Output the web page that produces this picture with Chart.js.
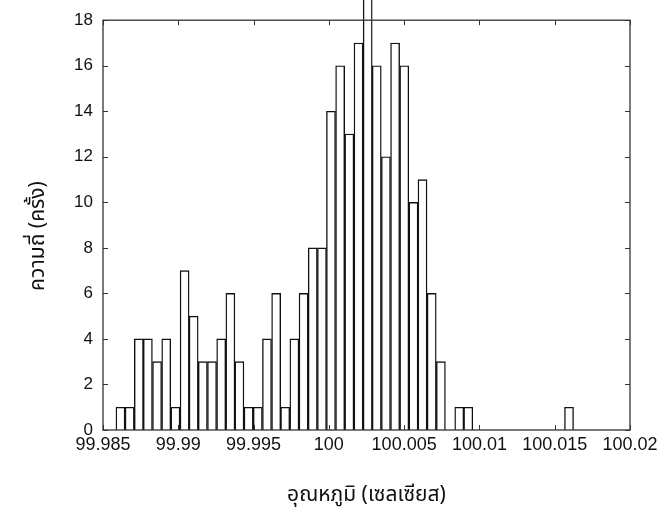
<!DOCTYPE html>
<html>
<head>
<meta charset="utf-8">
<script src="https://cdn.jsdelivr.net/npm/chart.js@4.4.1/dist/chart.umd.min.js"></script>
<style>
  html, body { margin: 0; padding: 0; background: #fff; }
  #wrap { width: 662px; height: 512px; }
</style>
</head>
<body>
<div id="wrap"><canvas id="myChart" width="662" height="512"></canvas></div>
<script>
// bin centres (องศาเซลเซียส)
var binCentres = [
  99.98616, 99.98677, 99.98738, 99.98798, 99.98859, 99.98920, 99.98981, 99.99042, 99.99102, 99.99163,
  99.99224, 99.99285, 99.99346, 99.99406, 99.99467, 99.99528, 99.99589, 99.99650, 99.99710, 99.99771,
  99.99832, 99.99893, 99.99954, 100.00014, 100.00075, 100.00136, 100.00197, 100.00258, 100.00318, 100.00379,
  100.00440, 100.00501, 100.00562, 100.00622, 100.00683, 100.00744, 100.00805, 100.00866, 100.00926, 100.00987,
  100.01048, 100.01109, 100.01170, 100.01230, 100.01291, 100.01352, 100.01413, 100.01474, 100.01534, 100.01595
];
// counts per bin (ความถี่)
var counts = [
  1, 1, 4, 4, 3, 4, 1, 7, 5, 3,
  3, 4, 6, 3, 1, 1, 4, 6, 1, 4,
  6, 8, 8, 14, 16, 13, 17, 19, 16, 12,
  17, 16, 10, 11, 6, 3, 0, 1, 1, 0,
  0, 0, 0, 0, 0, 0, 0, 0, 0, 1
];
var xTicks = [99.985, 99.99, 99.995, 100, 100.005, 100.01, 100.015, 100.02];
var yTicks = [0, 2, 4, 6, 8, 10, 12, 14, 16, 18];

var xTitle = 'อุณหภูมิ (เซลเซียส)';
var yTitle = 'ความถี่ (ครั้ง)';

var thaiFont = '"Noto Sans Thai", "Noto Serif Thai", Loma, Garuda, Kinnari, "TH Sarabun New", "Noto Sans", "DejaVu Sans", sans-serif';
var numFont = '"Liberation Sans", Arial, sans-serif';

// กรอบรอบพื้นที่กราฟ + ขีดสเกลชี้เข้าด้านใน
const boxPlugin = {
  id: 'boxTicks',
  afterDatasetsDraw(chart) {
    const c = chart.ctx;
    const a = chart.chartArea;
    const xs = chart.scales.x, ys = chart.scales.y;
    const len = 5;
    c.save();
    c.strokeStyle = '#333';
    c.lineWidth = 1.3;
    c.strokeRect(a.left, a.top, a.right - a.left, a.bottom - a.top);
    c.beginPath();
    xTicks.forEach(function (v) {
      const px = Math.round(xs.getPixelForValue(v)) + 0.5;
      c.moveTo(px, a.bottom); c.lineTo(px, a.bottom - len);
      c.moveTo(px, a.top); c.lineTo(px, a.top + len);
    });
    yTicks.forEach(function (v) {
      const py = Math.round(ys.getPixelForValue(v)) + 0.5;
      c.moveTo(a.left, py); c.lineTo(a.left + len, py);
      c.moveTo(a.right, py); c.lineTo(a.right - len, py);
    });
    c.lineWidth = 1;
    c.stroke();
    c.restore();
  }
};

const ctx = document.getElementById('myChart').getContext('2d');
const myChart = new Chart(ctx, {
  type: 'bar',
  data: {
    datasets: [{
      label: yTitle,
      data: binCentres.map(function (x, i) { return { x: x, y: counts[i] }; }),
      backgroundColor: '#ffffff',
      borderColor: '#111111',
      borderWidth: 1.4,
      borderSkipped: 'start',
      barPercentage: 1,
      categoryPercentage: 1,
      clip: false
    }]
  },
  options: {
    responsive: false,
    animation: false,
    layout: { padding: { left: 0, right: 32, top: 17, bottom: 0 } },
    plugins: { legend: { display: false }, tooltip: { enabled: false } },
    scales: {
      x: {
        type: 'linear',
        offset: false,
        min: 99.985,
        max: 100.02,
        afterBuildTicks: function (s) { s.ticks = xTicks.map(function (v) { return { value: v }; }); },
        afterFit: function (s) { s.height = 82; },
        grid: { display: false, drawTicks: false, offset: false },
        border: { display: false },
        ticks: {
          padding: 4,
          maxRotation: 0,
          autoSkip: false,
          color: '#111',
          font: { family: numFont, size: 18 },
          callback: function (v) { return String(parseFloat(Number(v).toFixed(3))); }
        },
        title: {
          display: true,
          text: xTitle,
          color: '#111',
          font: { family: thaiFont, size: 21 },
          padding: { top: 0, bottom: 3 }
        }
      },
      y: {
        min: 0,
        max: 18,
        afterBuildTicks: function (s) { s.ticks = yTicks.map(function (v) { return { value: v }; }); },
        afterFit: function (s) { s.width = 103; },
        grid: { display: false, drawTicks: false },
        border: { display: false },
        ticks: {
          padding: 10,
          color: '#111',
          font: { family: numFont, size: 17 }
        },
        title: {
          display: true,
          text: yTitle + '\u00a0\u00a0\u00a0\u00a0',
          color: '#111',
          font: { family: thaiFont, size: 21 },
          padding: { top: 27, bottom: 0 }
        }
      }
    }
  },
  plugins: [boxPlugin]
});
</script>
</body>
</html>
